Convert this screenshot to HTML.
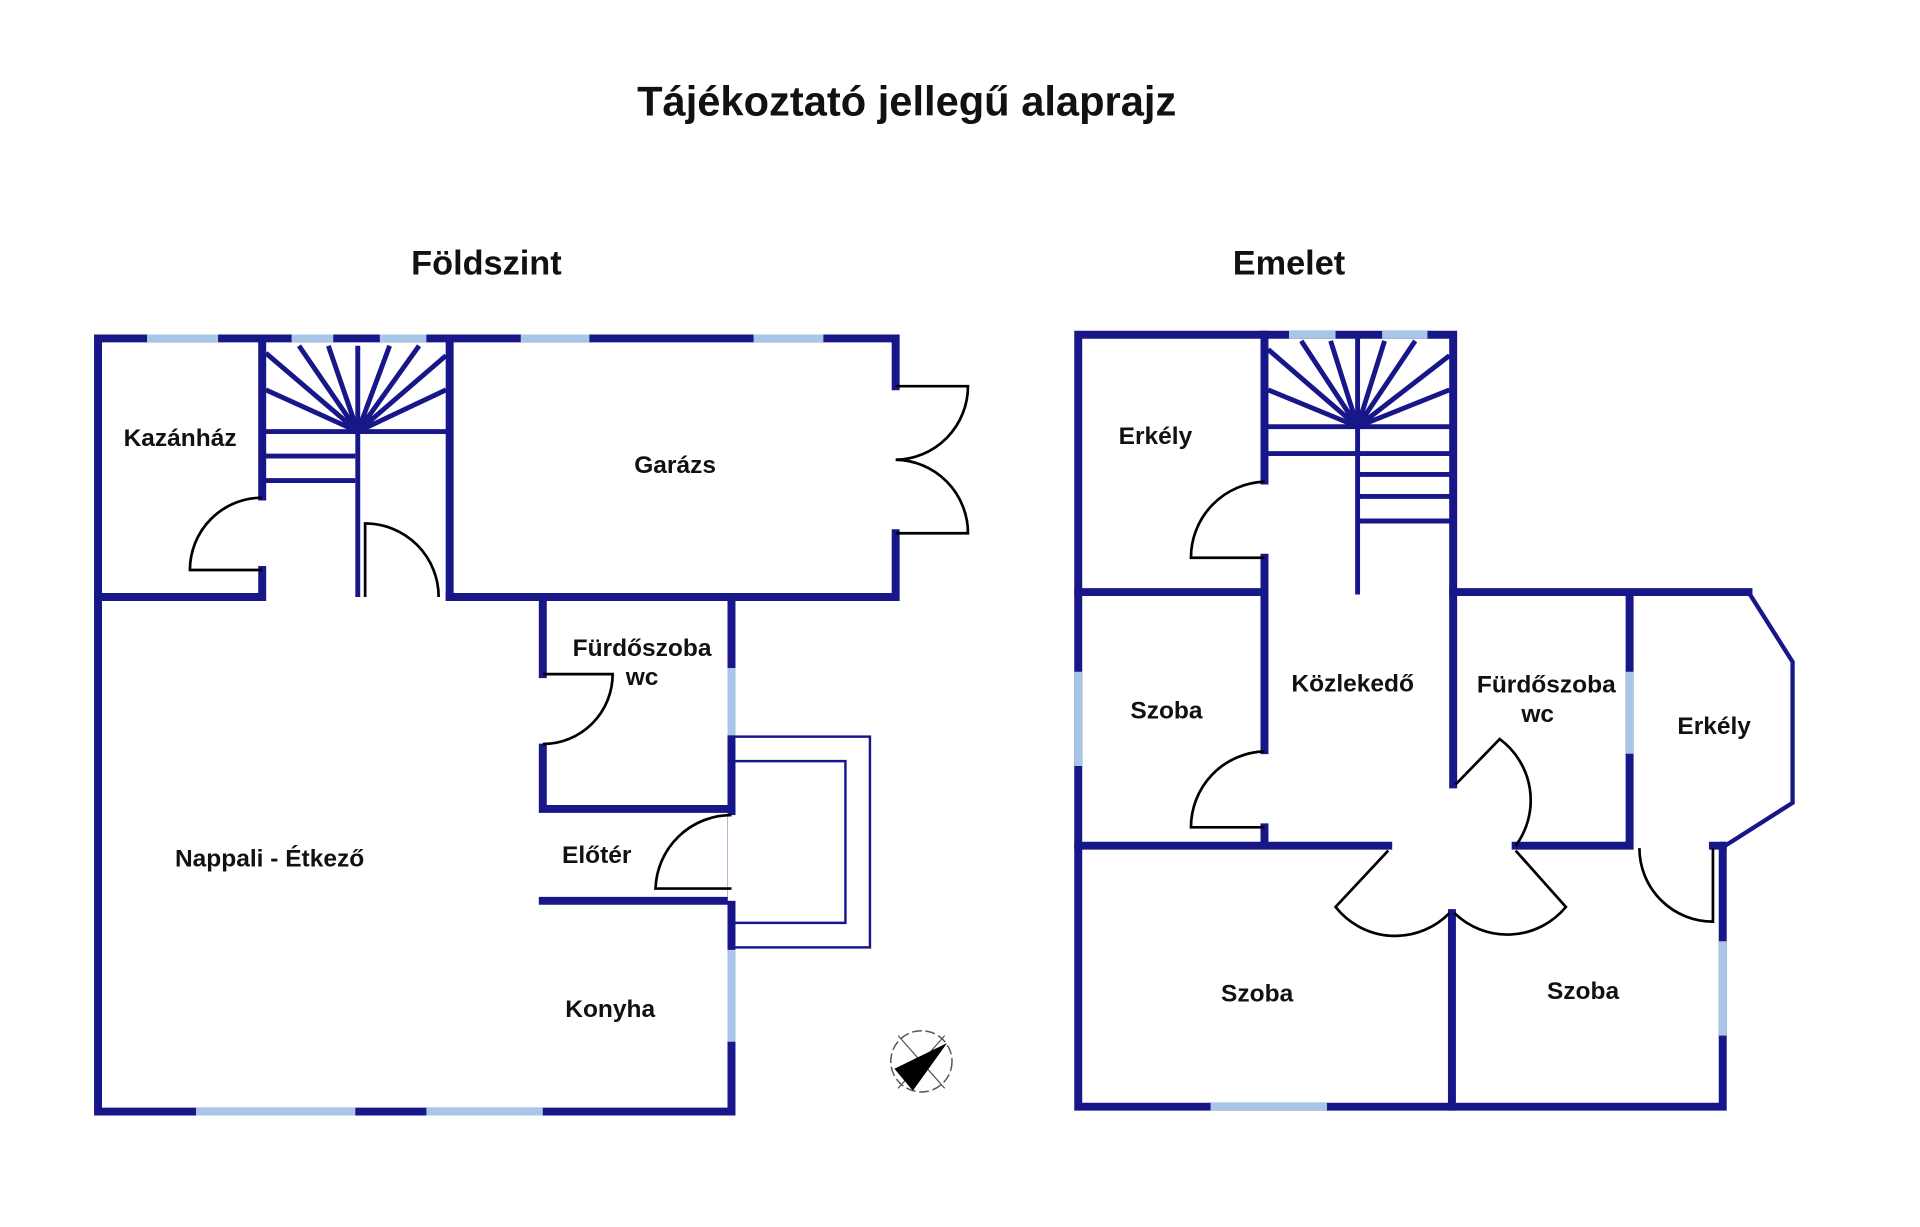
<!DOCTYPE html>
<html><head><meta charset="utf-8"><style>
html,body{margin:0;padding:0;background:#fff}
svg{display:block}
text{font-family:"Liberation Sans",sans-serif;font-weight:bold;fill:#111}
</style></head><body>
<svg width="1920" height="1227" viewBox="0 0 1567 1001" xmlns="http://www.w3.org/2000/svg">
<rect width="1567" height="1001" fill="#fff"/>
<text x="740" y="94" font-size="34" text-anchor="middle">Tájékoztató jellegű alaprajz</text>
<text x="397" y="224" font-size="28" text-anchor="middle">Földszint</text>
<text x="1052" y="224" font-size="28" text-anchor="middle">Emelet</text>

<g stroke="#17178a" stroke-width="6.5" fill="none" stroke-linecap="square">
<path d="M80 276 H731 V315 M731 435 V487 H367 M80 276 V907 H597 V487 H443 V550 M443 610 V660 H597"/>
<path d="M80 487 H214 V465 M214 405 V282"/>
<path d="M367 276 V487"/>
<path d="M443 735 H597 M597 665 V660"/>
</g>
<g stroke="#a9c6e8" stroke-width="6.5">
<path d="M120 276 H178 M238 276 H272 M310 276 H348 M425 276 H481 M615 276 H672"/>
<path d="M160 907 H290 M348 907 H443"/>
<path d="M597 545 V600 M597 775 V850"/>
</g>
<g stroke="#17178a" stroke-width="4" fill="none">
<path d="M292 282 V487"/>
<path d="M217 352 H364 M217 372 H290 M217 392 H290"/>
<path d="M292 352 L217 288 M292 352 L217 318 M292 352 L244 282 M292 352 L268 282 M292 352 L318 282 M292 352 L342 282 M292 352 L364 290 M292 352 L364 318"/>
</g>
<g stroke="#17178a" stroke-width="2" fill="none">
<rect x="597" y="601" width="113" height="172"/>
<path d="M597 621 H690 V753 H597"/>
</g>
<rect x="594" y="665" width="7" height="70" fill="#fff"/>
<g stroke="#000" stroke-width="2.2" fill="none">
<path d="M214 465 H155 A59 59 0 0 1 214 406"/>
<path d="M298 487 V427 A60 60 0 0 1 358 487"/>
<path d="M731 315 H790 A60 60 0 0 1 731 375 A60 60 0 0 1 790 435 H731"/>
<path d="M443 550 H500 A57 57 0 0 1 443 607"/>
<path d="M597 725 H535 A62 62 0 0 1 597 665"/>
</g>
<!-- compass -->
<circle cx="752" cy="866" r="25" fill="none" stroke="#555" stroke-width="1.2" stroke-dasharray="8 3"/>
<path d="M733 845 L771 888 M733 888 L771 845" stroke="#555" stroke-width="1"/>
<path d="M773 851 L730 872 L745 890 Z" fill="#000"/>

<!-- Upper floor -->
<g stroke="#17178a" stroke-width="6.5" fill="none" stroke-linecap="square">
<path d="M880 273 V903 H1406 V690 M1186 483 V273 H880"/>
<path d="M1032 273 V392 M1032 455 V483 H880"/>
<path d="M1032 483 V612 M1032 675 V690 H880 M1032 690 H1133"/>
<path d="M1186 483 H1427 M1186 483 V640 M1330 487 V690 H1237"/>
<path d="M1185 745 V903"/>
<path d="M1406 690 H1398"/>
</g>
<g stroke="#17178a" stroke-width="3.5" fill="none">
<path d="M1427 483 L1463 540 V655 L1408 690"/>
</g>
<g stroke="#a9c6e8" stroke-width="6.5">
<path d="M1052 273 H1090 M1128 273 H1165"/>
<path d="M880 548 V625 M1330 548 V615 M1406 768 V845 M988 903 H1083"/>
</g>
<g stroke="#17178a" stroke-width="4" fill="none">
<path d="M1108 276 V485"/>
<path d="M1035 348 H1183 M1035 370 H1183 M1108 387 H1183 M1108 405 H1183 M1108 425 H1183"/>
<path d="M1108 348 L1035 285 M1108 348 L1035 318 M1108 348 L1062 278 M1108 348 L1086 278 M1108 348 L1130 278 M1108 348 L1155 278 M1108 348 L1183 290 M1108 348 L1183 318"/>
</g>
<g stroke="#000" stroke-width="2.2" fill="none">
<path d="M1032 455 H972 A62 62 0 0 1 1032 393"/>
<path d="M1032 675 H972 A62 62 0 0 1 1032 613"/>
<path d="M1398 692 V752 A60 60 0 0 1 1338 692"/>
<path d="M1188 640 L1224 603 A62 62 0 0 1 1237 690"/>
<path d="M1133 694 L1090 740 A62 62 0 0 0 1183 745"/>
<path d="M1237 694 L1278 740 A62 62 0 0 1 1187 745"/>
</g>

<g font-size="20">
<text x="147" y="364" text-anchor="middle">Kazánház</text>
<text x="551" y="386" text-anchor="middle">Garázs</text>
<text x="524" y="535" text-anchor="middle">Fürdőszoba</text>
<text x="524" y="559" text-anchor="middle">wc</text>
<text x="220" y="707" text-anchor="middle">Nappali - Étkező</text>
<text x="487" y="704" text-anchor="middle">Előtér</text>
<text x="498" y="830" text-anchor="middle">Konyha</text>
<text x="943" y="362" text-anchor="middle">Erkély</text>
<text x="952" y="586" text-anchor="middle">Szoba</text>
<text x="1104" y="564" text-anchor="middle">Közlekedő</text>
<text x="1262" y="565" text-anchor="middle">Fürdőszoba</text>
<text x="1255" y="589" text-anchor="middle">wc</text>
<text x="1399" y="599" text-anchor="middle">Erkély</text>
<text x="1026" y="817" text-anchor="middle">Szoba</text>
<text x="1292" y="815" text-anchor="middle">Szoba</text>
</g>
</svg>
</body></html>
